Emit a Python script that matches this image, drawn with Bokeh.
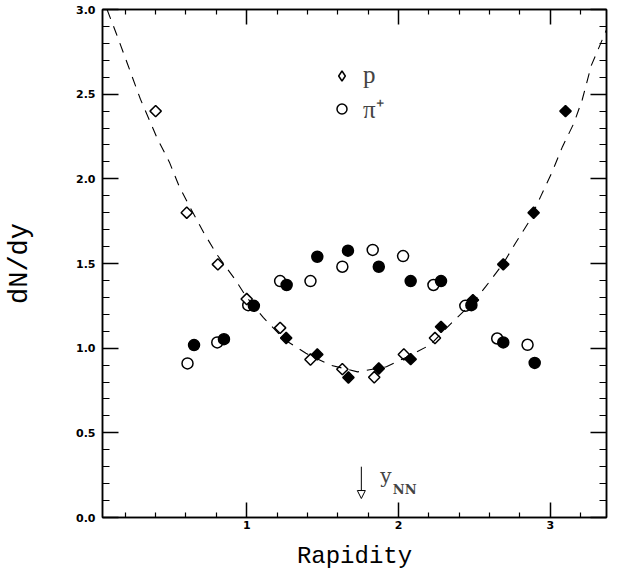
from bokeh.plotting import figure
from bokeh.models import (Range1d, LinearAxis, FixedTicker, Legend, LegendItem,
                          Arrow, NormalHead, Label, CustomJSTickFormatter)
from bokeh.embed import file_html
from bokeh.resources import INLINE

NaN = float("nan")

# ---- data ----
p_open_x = [0.40, 0.605, 0.81, 1.00, 1.22, 1.42, 1.63, 1.84, 2.035, 2.24]
p_open_y = [2.40, 1.80, 1.495, 1.29, 1.12, 0.933, 0.876, 0.828, 0.963, 1.06]
p_refl_x = [3.10, 2.89, 2.69, 2.49, 2.28, 2.08, 1.87, 1.67, 1.465, 1.26]
p_refl_y = [2.40, 1.80, 1.495, 1.284, 1.126, 0.935, 0.88, 0.827, 0.963, 1.06]

pi_open_x = [0.61, 0.806, 1.01, 1.22, 1.42, 1.63, 1.83, 2.03, 2.23, 2.44, 2.65, 2.85]
pi_open_y = [0.91, 1.034, 1.254, 1.396, 1.396, 1.481, 1.58, 1.544, 1.373, 1.25, 1.057, 1.02]
pi_refl_x = [0.653, 0.85, 1.047, 1.263, 1.465, 1.667, 1.87, 2.08, 2.28, 2.48, 2.69, 2.897]
pi_refl_y = [1.018, 1.053, 1.25, 1.373, 1.54, 1.576, 1.481, 1.396, 1.396, 1.254, 1.034, 0.913]

curve_x = [0.08, 0.14, 0.21, 0.30, 0.41, 0.49, 0.553, 0.61, 0.718, 0.806, 0.92, 1.00,
           1.11, 1.25, 1.39, 1.55, 1.73, 1.92, 2.06, 2.21, 2.35, 2.49, 2.574, 2.69,
           2.77, 2.86, 2.936, 3.013, 3.08, 3.156, 3.21, 3.27, 3.37]
curve_y = [3.00, 2.86, 2.69, 2.47, 2.24, 2.10, 1.96, 1.86, 1.68, 1.55, 1.41, 1.30,
           1.18, 1.05, 0.97, 0.90, 0.86, 0.89, 0.95, 1.02, 1.15, 1.27, 1.363, 1.50,
           1.62, 1.747, 1.895, 2.043, 2.19, 2.33, 2.467, 2.67, 2.88]

y_nn = 1.755
x_major = [1, 2, 3]
x_minor = [0.2, 0.4, 0.6, 0.8, 1.2, 1.4, 1.6, 1.8, 2.2, 2.4, 2.6, 2.8, 3.2]
y_major = [0.0, 0.5, 1.0, 1.5, 2.0, 2.5, 3.0]
y_minor = [i / 10 for i in range(31)]

legend_labels = ["p", "\u03c0\u207a"]
x_label = "Rapidity"
y_label = "dN/dy"

# ---- figure ----
p = figure(width=624, height=577, x_range=Range1d(0.05, 3.37), y_range=Range1d(0.0, 3.0),
           output_backend="svg", toolbar_location=None,
           min_border_left=102, min_border_right=18, min_border_top=9, min_border_bottom=60,
           x_axis_type=None, y_axis_type=None)
p.grid.visible = False
p.outline_line_color = "black"
p.outline_line_width = 1.5
p.background_fill_color = "white"
p.border_fill_color = "white"

xt = FixedTicker(ticks=x_major, minor_ticks=x_minor)
yt = FixedTicker(ticks=y_major, minor_ticks=y_minor)

def style(ax, major_len, minor_len, labels=True):
    ax.major_tick_in = major_len
    ax.major_tick_out = 0
    ax.minor_tick_in = minor_len
    ax.minor_tick_out = 0
    ax.axis_line_color = "black"
    ax.axis_line_width = 1.5
    ax.major_tick_line_width = 1.5
    ax.minor_tick_line_width = 1.2
    ax.major_tick_line_color = "black"
    ax.minor_tick_line_color = "black"
    if labels:
        ax.major_label_text_font = "DejaVu Sans"
        ax.major_label_text_font_style = "bold"
        ax.major_label_text_font_size = "11px"
        ax.major_label_text_color = "black"
    else:
        ax.formatter = CustomJSTickFormatter(code="return '';")
        ax.major_label_text_font_size = "1px"
        ax.major_label_standoff = 0

xb = LinearAxis(ticker=xt, axis_label=x_label)
style(xb, 15, 5)
xb.major_label_standoff = 3
xb.axis_label_standoff = 11
xb.axis_label_text_font = "Liberation Mono"
xb.axis_label_text_font_style = "normal"
xb.axis_label_text_font_size = "24px"
xb.axis_label_text_color = "black"
p.add_layout(xb, "below")

yl = LinearAxis(ticker=yt, axis_label=y_label)
style(yl, 16, 7)
yl.formatter = CustomJSTickFormatter(code="return tick.toFixed(1);")
yl.major_label_standoff = 7
yl.axis_label_standoff = 38
yl.axis_label_text_font = "Liberation Mono"
yl.axis_label_text_font_style = "normal"
yl.axis_label_text_font_size = "27px"
yl.axis_label_text_color = "black"
p.add_layout(yl, "left")

xtop = LinearAxis(ticker=xt)
style(xtop, 15, 5, labels=False)
p.add_layout(xtop, "above")

yr = LinearAxis(ticker=yt)
style(yr, 16, 7, labels=False)
p.add_layout(yr, "right")

# ---- data glyphs ----
p.scatter(pi_open_x, pi_open_y, marker="circle", size=11,
          fill_color="white", line_color="black", line_width=1.5)
p.scatter(p_open_x, p_open_y, marker="square", angle=0.785398, size=8,
          fill_color="white", line_color="black", line_width=1.5)
p.scatter(pi_refl_x, pi_refl_y, marker="circle", size=11,
          fill_color="black", line_color="black", line_width=1.5)
p.scatter(p_refl_x, p_refl_y, marker="square", angle=0.785398, size=8,
          fill_color="black", line_color="black", line_width=1.5)

p.line(curve_x, curve_y, line_color="black", line_width=1.1, line_dash="10 8")

# legend-only renderers (a single undrawn NaN point each)
leg_p = p.scatter(x=[NaN], y=[NaN], marker="diamond", fill_color="white",
                  line_color="black", line_width=1.5)
leg_pi = p.scatter(x=[NaN], y=[NaN], marker="circle", fill_color="white",
                   line_color="black", line_width=1.5)

# ---- y_NN arrow ----
p.add_layout(Arrow(x_start=y_nn, y_start=0.30, x_end=y_nn, y_end=0.112,
                   line_color="black", line_width=1,
                   end=NormalHead(size=8, fill_color="white", line_color="black", line_width=1)))
p.add_layout(Label(x=1.88, y=0.243, text="y", text_font="DejaVu Serif",
                   text_font_size="20px", text_baseline="alphabetic"))
p.add_layout(Label(x=1.962, y=0.165, text="NN", text_font="DejaVu Serif",
                   text_font_style="bold", text_font_size="13px", text_baseline="alphabetic"))

# ---- legend ----
legend = Legend(items=[LegendItem(label=legend_labels[0], renderers=[leg_p]),
                       LegendItem(label=legend_labels[1], renderers=[leg_pi])],
                location=(227, 392), background_fill_alpha=0, border_line_alpha=0,
                padding=0, margin=0, spacing=2, glyph_width=25, glyph_height=25,
                label_standoff=9, label_height=25, label_text_font="Liberation Serif",
                label_text_font_size="25px")
p.add_layout(legend)

open("out.html", "w").write(file_html(p, INLINE))
